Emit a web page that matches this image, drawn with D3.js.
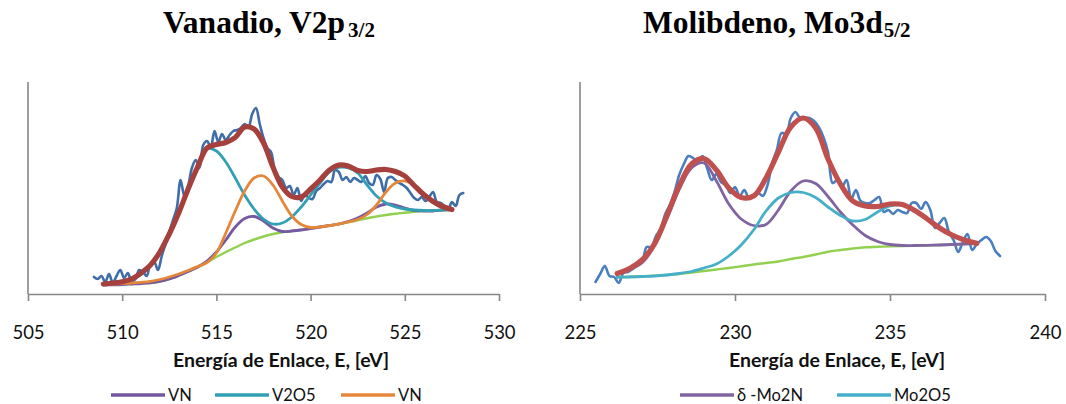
<!DOCTYPE html>
<html><head><meta charset="utf-8">
<script src="https://cdn.jsdelivr.net/npm/d3@7"></script>
<style>
html,body{margin:0;padding:0;background:#fff;}
svg{display:block;}
</style></head>
<body>
<svg id="chart" width="1066" height="404"></svg>
<script>
// ---------------- Vanadio, V2p3/2 ----------------
const vTicks = [505, 510, 515, 520, 525, 530];
const vEnergy = [509,509.5,510,510.5,511,511.5,512,512.5,513,513.5,514,514.5,515,515.5,516,516.5,517,517.5,518,518.5,519,519.5,520,520.5,521,521.5,522,522.5,523,523.5,524,524.5,525,525.5,526,526.5,527,527.5];
const vFit  = [10,11,12.2,15,21,29,42,60,81,105,127,146,149.5,151.5,156.5,167,165,151,127,107,97.5,97,105,114,124,129,128,123.5,122.5,124,124.5,122.5,118,108.5,99.5,92.5,87.5,84.5];
const vVN1  = [9,9.2,9.5,10,10.5,11.2,12.5,15,18.5,22.5,27,33,42,54,67,75.5,77.5,73,66,62.5,63,64,65.5,67,68.5,70,72.5,76,81,87,90,89,86,83.5,83,83,84,84.5];
const vV2O5 = [9.5,10.5,11.5,14,19.5,28,41,59,80,103,125,145.5,143,132,116,99,85,75,70,71,77,87,99,111,122,126.5,126,121,109,98,91,87,85,84,83.5,83.5,84,84.5];
const vVN2  = [9.5,10,10.5,11,11.7,12.7,14.5,17,20,23.5,27.5,31.5,41,61,83,103,116,118,109,93,78,69.5,66.5,67,68.5,70,72,74.5,79.5,89,102,111,113,109,101,93,87.5,84.5];
const vBg   = [9,9.2,9.5,10,10.5,11.2,12.5,15,18.5,22.5,26.5,31.5,37,42,46.5,51,54.5,57.5,60,61.7,63,64.2,65.5,67,68.5,70,71.7,73.7,75.7,77.5,79,80.3,81.3,82.2,83,83.5,84,84.5];
const vDataE = [508.5,508.7,508.9,509.1,509.3,509.5,509.7,509.9,510.1,510.3,510.5,510.7,510.9,511.1,511.3,511.5,511.7,511.9,512.1,512.3,512.5,512.7,512.9,513.1,513.3,513.5,513.7,513.9,514.1,514.3,514.5,514.7,514.9,515.1,515.3,515.5,515.7,515.9,516.1,516.3,516.5,516.7,516.9,517.1,517.3,517.5,517.7,517.9,518.1,518.3,518.5,518.7,518.9,519.1,519.3,519.5,519.7,519.9,520.1,520.3,520.5,520.7,520.9,521.1,521.3,521.5,521.7,521.9,522.1,522.3,522.5,522.7,522.9,523.1,523.3,523.5,523.7,523.9,524.1,524.3,524.5,524.7,524.9,525.1,525.3,525.5,525.7,525.9,526.1,526.3,526.5,526.7,526.9,527.1,527.3,527.5,527.7,527.9,528.1];
const vData = [17,15,18,12,20,11,18,24,16,21,13,15,24,22,18,30,32,24,38,50,62,74,86,114,98,108,126,134,126,149,153,147,163,152,160,154,159,163,164,166,170,167,180,186,170,156,146,142,124,117,114,106,108,99,106,93,100,96,95,103,106,110,113,112,124,122,114,117,112,116,114,112,118,111,109,119,115,102,116,117,114,111,109,106,101,96,94,97,93,97,102,92,91,88,84,92,88,99,101];
const vLegend = ["VN", "V2O5", "VN"];

// ---------------- Molibdeno, Mo3d5/2 ----------------
const mTicks = [225, 230, 235, 240];
const mEnergy = [226.2,226.6,227,227.4,227.8,228.2,228.6,229,229.4,229.8,230.2,230.6,231,231.4,231.8,232.2,232.6,233,233.4,233.8,234.2,234.6,235,235.4,235.8,236.2,236.6,237,237.4,237.8];
const mFit   = [20.5,25.5,34,50,78,108,130,135.5,124,106,96.5,98,116,142,167,176,166,135,110,93,88,87.5,90,89.5,83.5,75,66,59,54,50.7];
const mMo2N  = [19.5,24.5,31,48,75,104.5,126,131,113,90,75,68.5,69.5,84,103,113,110.5,97.5,82,69,58.5,52.5,49.5,48.5,48.5,48.7,49,49.5,50,50.5];
const mMo2O5 = [16.7,17,17.5,18,19,20.5,22.5,26,30,38,49,64,83,96,101.5,101.5,96.5,87,78.5,73,74.5,82,88,89,84,75.5,66.5,59,54,50.7];
const mBg    = [16.7,17.2,17.7,18.3,19,20,21.5,23,24.5,26,27.7,29.5,31,32.5,35,37,39.5,42.3,44,45.5,46.7,47.2,47.7,48,48.3,48.7,49,49.5,50,50.5];
const mDataE = [225.5,225.65,225.8,225.95,226.1,226.25,226.4,226.55,226.7,226.85,227,227.15,227.3,227.45,227.6,227.75,227.9,228.05,228.2,228.35,228.5,228.65,228.8,228.95,229.1,229.25,229.4,229.55,229.7,229.85,230,230.15,230.3,230.45,230.6,230.75,230.9,231.05,231.2,231.35,231.5,231.65,231.8,231.95,232.1,232.25,232.4,232.55,232.7,232.85,233,233.15,233.3,233.45,233.6,233.75,233.9,234.05,234.2,234.35,234.5,234.65,234.8,234.95,235.1,235.25,235.4,235.55,235.7,235.85,236,236.15,236.3,236.45,236.6,236.75,236.9,237.05,237.2,237.35,237.5,237.65,237.8,237.95,238.1,238.25,238.4,238.55];
const mData = [12,20,28,18,17,11,21,22,25,29,32,47,47,58,65,80,89,102,119,130,138,136,131,138,126,114,120,112,109,101,107,98,104,96,98,101,98,109,131,144,161,160,176,182,176,176,176,173,167,157,142,111,114,107,114,95,104,93,91,91,94,97,82,84,80,84,82,81,91,91,85,92,84,66,71,76,62,54,42,52,60,44,50,54,57,53,43,38];
const mLegend = ["δ -Mo2N", "Mo2O5"];

const svg = d3.select("#chart");
const axisColor = "#868686";
const yDomain = [0, 212];
const sansFont = "Lato, 'Open Sans', sans-serif";

function panel(cfg) {
  const g = svg.append("g");
  const x = d3.scaleLinear().domain(cfg.xDomain).range(cfg.xRange);
  const y = d3.scaleLinear().domain(yDomain).range([294, 82]);

  g.append("line").attr("x1", cfg.xRange[0]).attr("x2", cfg.xRange[0])
    .attr("y1", 82).attr("y2", 294).attr("stroke", axisColor).attr("stroke-width", 1.6);

  const ax = g.append("g").attr("transform", "translate(0,294)")
    .call(d3.axisBottom(x).tickValues(cfg.ticks).tickSize(7).tickSizeOuter(0).tickFormat(d3.format("d")));
  ax.select(".domain").attr("stroke", axisColor).attr("stroke-width", 1.6);
  ax.selectAll(".tick line").attr("stroke", axisColor).attr("stroke-width", 1.6);
  ax.selectAll(".tick text").attr("y", 45).attr("dy", 0)
    .attr("font-family", sansFont).attr("font-size", 18.5).attr("fill", "#111");

  const line = (xs, ys, curve) => d3.line().x((d, i) => x(xs[i])).y(d => y(d)).curve(curve)(ys);
  const smooth = d3.curveCatmullRom.alpha(0.5);

  cfg.series.forEach(s => {
    g.append("path").attr("d", line(s.xs, s.ys, smooth))
      .attr("fill", "none").attr("stroke", s.color).attr("stroke-width", s.width)
      .attr("stroke-linejoin", "round").attr("stroke-linecap", "round");
  });

  const t = g.append("text").attr("x", cfg.titleX).attr("y", 33)
    .attr("font-family", "'Liberation Serif', 'Times New Roman', serif")
    .attr("font-weight", "bold").attr("font-size", 31.5).attr("fill", "#000");
  t.append("tspan").text(cfg.title);
  t.append("tspan").attr("font-size", 21).attr("dy", 4).attr("dx", cfg.subDx).text(cfg.sub);

  g.append("text").attr("x", cfg.axisTitleX).attr("y", 367).attr("text-anchor", "middle")
    .attr("font-family", sansFont).attr("font-weight", "bold")
    .attr("font-size", 19.5).attr("fill", "#111").text("Energía de Enlace, E, [eV]");

  cfg.legend.forEach((lg, i) => {
    const lx = cfg.legendX[i];
    g.append("line").attr("x1", lx).attr("x2", lx + 54).attr("y1", 395).attr("y2", 395)
      .attr("stroke", lg.color).attr("stroke-width", 3.5);
    g.append("text").attr("x", lx + 57).attr("y", 400.5)
      .attr("font-family", sansFont).attr("font-size", 16.5)
      .attr("fill", "#111").text(lg.label);
  });
}

panel({
  xDomain: [505, 530], xRange: [28, 499], ticks: vTicks,
  title: "Vanadio, V2p", sub: "3/2", subDx: 3, titleX: 163, axisTitleX: 281,
  series: [
    {xs: vDataE, ys: vData, color: "#3E6DA8", width: 2.6},
    {xs: vEnergy, ys: vBg, color: "#92D050", width: 2.4},
    {xs: vEnergy, ys: vVN1, color: "#7459A0", width: 2.8},
    {xs: vEnergy, ys: vV2O5, color: "#32A0B4", width: 2.8},
    {xs: vEnergy, ys: vVN2, color: "#E5873A", width: 2.8},
    {xs: vEnergy, ys: vFit, color: "#A5403D", width: 5.2}
  ],
  legend: [
    {label: vLegend[0], color: "#7459A0"},
    {label: vLegend[1], color: "#32A0B4"},
    {label: vLegend[2], color: "#E5873A"}
  ],
  legendX: [111, 215, 341]
});

panel({
  xDomain: [225, 240], xRange: [580, 1045], ticks: mTicks,
  title: "Molibdeno, Mo3d", sub: "5/2", subDx: 1, titleX: 643, axisTitleX: 837,
  series: [
    {xs: mDataE, ys: mData, color: "#4A7EBF", width: 2.6},
    {xs: mEnergy, ys: mBg, color: "#92D050", width: 2.4},
    {xs: mEnergy, ys: mMo2N, color: "#8064A2", width: 2.8},
    {xs: mEnergy, ys: mMo2O5, color: "#45AFC8", width: 2.8},
    {xs: mEnergy, ys: mFit, color: "#C0504D", width: 5.2}
  ],
  legend: [
    {label: mLegend[0], color: "#8064A2"},
    {label: mLegend[1], color: "#45AFC8"}
  ],
  legendX: [680, 837]
});
</script>
</body></html>
